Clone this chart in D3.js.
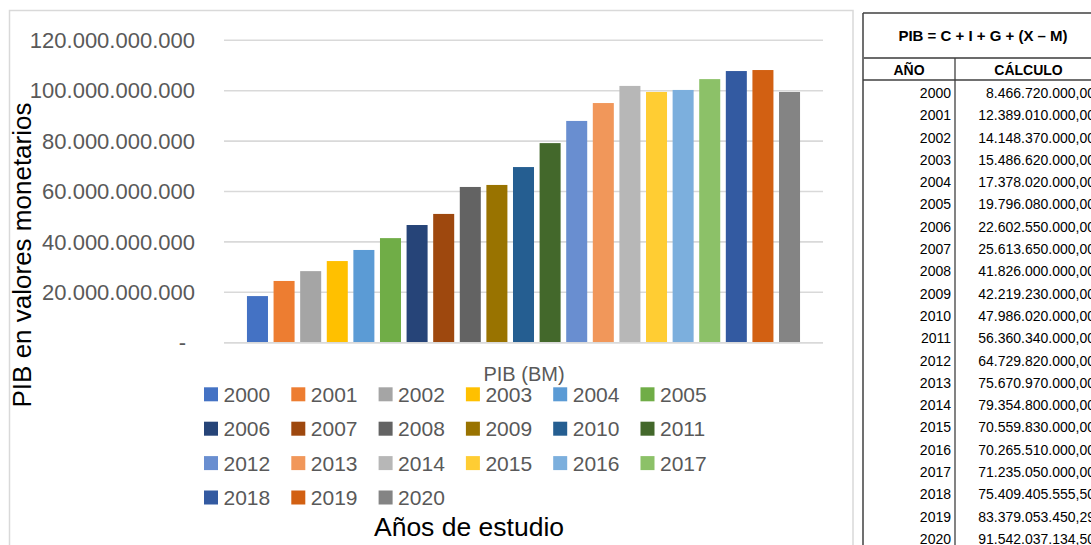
<!DOCTYPE html>
<html>
<head>
<meta charset="utf-8">
<script src="https://cdn.jsdelivr.net/npm/d3@7"></script>
<style>
  html, body { margin: 0; padding: 0; background: #fff; overflow: hidden; }
  svg { display: block; }
</style>
</head>
<body>
<svg id="chart" width="1091" height="545"></svg>
<script>
// Years shown as separate series in the column chart
const years = ["2000","2001","2002","2003","2004","2005","2006","2007","2008","2009","2010",
               "2011","2012","2013","2014","2015","2016","2017","2018","2019","2020"];

// PIB (BM) per year, in monetary units
const pibValues = [18.5e9, 24.5e9, 28.4e9, 32.4e9, 36.8e9, 41.5e9, 46.7e9, 51.1e9, 61.8e9, 62.6e9, 69.7e9,
                   79.2e9, 88.0e9, 95.1e9, 101.9e9, 99.5e9, 100.3e9, 104.6e9, 107.8e9, 108.2e9, 99.5e9];

// Series colours
const seriesColors = ["#4472C4","#ED7D31","#A5A5A5","#FFC000","#5B9BD5","#70AD47","#264478","#9E480E",
                      "#636363","#997300","#255E91","#43682B","#698ED0","#F1975A","#B7B7B7","#FFCD33",
                      "#7CAFDD","#8CC168","#335AA1","#D26012","#848484"];

// Y axis ticks
const yTicks = [0, 20e9, 40e9, 60e9, 80e9, 100e9, 120e9];

// Table: PIB = C + I + G + (X – M)
const tableYears = years;
const tableValues = [8466720000, 12389010000, 14148370000, 15486620000, 17378020000, 19796080000,
                     22602550000, 25613650000, 41826000000, 42219230000, 47986020000, 56360340000,
                     64729820000, 75670970000, 79354800000, 70559830000, 70265510000, 71235050000,
                     75409405555.50, 83379053450.29, 91542037134.50];

const loc = d3.formatLocale({ decimal: ",", thousands: ".", grouping: [3], currency: ["", ""] });
const fmtInt = loc.format(",.0f");
const fmtDec = loc.format(",.2f");

const svg = d3.select("#chart");
const FONT = "'Liberation Sans', Arial, sans-serif";

// ---- Chart frame
svg.append("rect")
  .attr("x", 9.5).attr("y", 10.5).attr("width", 843.5).attr("height", 560)
  .attr("fill", "#fff").attr("stroke", "#d9d9d9").attr("stroke-width", 1.5);

const plot = { left: 224, right: 823, top: 40.3, bottom: 342.7 };

const y = d3.scaleLinear().domain([0, 120e9]).range([plot.bottom, plot.top]);
const x = d3.scaleBand().domain(years).range([plot.left, plot.right])
  .paddingInner(0.21).paddingOuter(0.863);

// Gridlines
svg.append("g").selectAll("line").data(yTicks).join("line")
  .attr("x1", plot.left).attr("x2", plot.right)
  .attr("y1", d => y(d)).attr("y2", d => y(d))
  .attr("stroke", "#d9d9d9").attr("stroke-width", 1.6);

// Tick labels
svg.append("g").selectAll("text").data(yTicks).join("text")
  .attr("x", d => d === 0 ? 186 : 195)
  .attr("y", d => y(d) + 7.7)
  .attr("text-anchor", "end")
  .attr("font-family", FONT).attr("font-size", 22).attr("fill", "#595959")
  .text(d => d === 0 ? "-" : fmtInt(d));

// Bars
svg.append("g").selectAll("rect").data(years).join("rect")
  .attr("x", (d) => x(d))
  .attr("width", x.bandwidth())
  .attr("y", (d, i) => y(pibValues[i]))
  .attr("height", (d, i) => y(0) - y(pibValues[i]))
  .attr("fill", (d, i) => seriesColors[i]);

// Axis line on top of bars
svg.append("line")
  .attr("x1", plot.left).attr("x2", plot.right)
  .attr("y1", y(0)).attr("y2", y(0))
  .attr("stroke", "#d9d9d9").attr("stroke-width", 1.6);

// Category label
svg.append("text")
  .attr("x", 524).attr("y", 381).attr("text-anchor", "middle")
  .attr("font-family", FONT).attr("font-size", 20).attr("fill", "#595959")
  .text("PIB (BM)");

// Legend
const legend = svg.append("g");
const lg = legend.selectAll("g").data(years).join("g")
  .attr("transform", (d, i) => `translate(${204 + (i % 6) * 87.3},${394.3 + Math.floor(i / 6) * 34.4})`);
lg.append("rect").attr("x", 0).attr("y", -7).attr("width", 14).attr("height", 14)
  .attr("fill", (d, i) => seriesColors[i]);
lg.append("text").attr("x", 19.5).attr("y", 7.6)
  .attr("font-family", FONT).attr("font-size", 21).attr("fill", "#595959")
  .text(d => d);

// Axis titles
svg.append("text")
  .attr("transform", "translate(31,255) rotate(-90)")
  .attr("text-anchor", "middle")
  .attr("font-family", FONT).attr("font-size", 26).attr("fill", "#000")
  .text("PIB en valores monetarios");

svg.append("text")
  .attr("x", 469).attr("y", 536).attr("text-anchor", "middle")
  .attr("font-family", FONT).attr("font-size", 26.5).attr("fill", "#000")
  .text("Años de estudio");

// ---- Table
const tbl = svg.append("g");
const lineColor = "#404040";
tbl.append("line").attr("x1", 863).attr("x2", 1091).attr("y1", 13).attr("y2", 13)
  .attr("stroke", lineColor).attr("stroke-width", 1.5);
tbl.append("line").attr("x1", 863).attr("x2", 863).attr("y1", 13).attr("y2", 545)
  .attr("stroke", lineColor).attr("stroke-width", 1.5);
tbl.append("line").attr("x1", 863).attr("x2", 1091).attr("y1", 58).attr("y2", 58)
  .attr("stroke", "#6b6b6b").attr("stroke-width", 1.8);
tbl.append("line").attr("x1", 863).attr("x2", 1091).attr("y1", 80).attr("y2", 80)
  .attr("stroke", lineColor).attr("stroke-width", 1.3);
tbl.append("line").attr("x1", 955).attr("x2", 955).attr("y1", 58).attr("y2", 545)
  .attr("stroke", lineColor).attr("stroke-width", 1.3);

tbl.append("text").attr("x", 983).attr("y", 41).attr("text-anchor", "middle")
  .attr("font-family", FONT).attr("font-size", 15).attr("font-weight", "bold").attr("fill", "#000")
  .text("PIB = C + I + G + (X – M)");
tbl.append("text").attr("x", 909).attr("y", 75).attr("text-anchor", "middle")
  .attr("font-family", FONT).attr("font-size", 14).attr("font-weight", "bold").attr("fill", "#000")
  .text("AÑO");
tbl.append("text").attr("x", 1028.5).attr("y", 75).attr("text-anchor", "middle")
  .attr("font-family", FONT).attr("font-size", 14).attr("font-weight", "bold").attr("fill", "#000")
  .text("CÁLCULO");

const rowY = d3.scalePoint().domain(tableYears).range([92.7, 538.7]);
const rows = tbl.selectAll("g.row").data(tableYears).join("g").attr("class", "row");
rows.append("text").attr("x", 951).attr("y", d => rowY(d) + 5.2).attr("text-anchor", "end")
  .attr("font-family", FONT).attr("font-size", 14).attr("fill", "#000")
  .text(d => d);
rows.append("text").attr("x", 1095).attr("y", d => rowY(d) + 5.2).attr("text-anchor", "end")
  .attr("font-family", FONT).attr("font-size", 14).attr("fill", "#000")
  .text((d, i) => fmtDec(tableValues[i]));
</script>
</body>
</html>
